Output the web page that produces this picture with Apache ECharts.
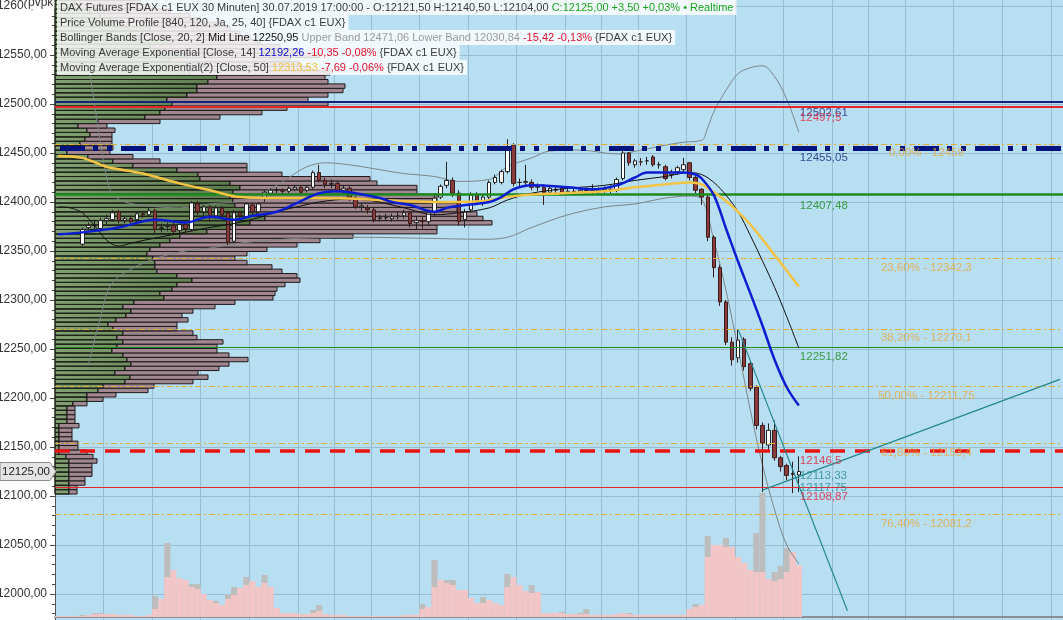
<!DOCTYPE html>
<html><head><meta charset="utf-8">
<script src="https://cdn.jsdelivr.net/npm/echarts@6/dist/echarts.min.js"></script>
<style>html,body{margin:0;padding:0;background:#fff;overflow:hidden}#c{width:1063px;height:620px}</style>
</head><body><div id="c"></div>
<script>
// ---------------- DATA ----------------
const SLOT_COUNT = 166;          // 30-minute slots on the x axis (incl. empty future space)
const candleFirstIndex = 4;      // slot of the first visible candle
// [open, close, low, high]
const candles = [
 [12357,12372,12355,12374],[12374,12376,12371,12379],[12376,12377,12372,12382],[12373,12381,12370,12384],
 [12381,12383,12377,12387],[12382,12389,12380,12392],[12390,12381,12378,12392],[12381,12383,12378,12386],
 [12383,12380,12377,12385],[12382,12388,12379,12390],[12388,12387,12384,12391],[12387,12391,12385,12394],
 [12391,12372,12368,12393],[12373,12374,12369,12378],[12375,12376,12370,12379],[12376,12370,12366,12379],
 [12371,12377,12367,12380],[12377,12373,12369,12380],[12372,12399,12370,12401],[12398,12390,12387,12401],
 [12390,12395,12386,12397],[12395,12386,12380,12397],[12386,12394,12383,12396],[12394,12387,12384,12396],
 [12389,12359,12356,12391],[12360,12389,12358,12392],[12389,12386,12382,12391],[12385,12398,12383,12400],
 [12397,12390,12387,12399],[12390,12398,12388,12400],[12405,12410,12400,12412],[12409,12412,12406,12414],
 [12412,12412,12409,12415],[12412,12411,12408,12414],[12411,12414,12409,12416],[12413,12415,12411,12417],
 [12415,12410,12408,12417],[12412,12415,12410,12417],[12415,12430,12413,12432],[12430,12422,12420,12438],
 [12422,12418,12414,12425],[12418,12419,12414,12423],[12419,12412,12409,12421],[12412,12414,12408,12417],
 [12414,12404,12401,12416],[12404,12395,12393,12406],[12395,12396,12391,12399],[12394,12392,12388,12397],
 [12392,12382,12379,12394],[12383,12384,12380,12387],[12384,12384,12381,12388],[12383,12385,12380,12388],
 [12385,12386,12382,12390],[12386,12389,12383,12392],[12389,12378,12374,12391],[12379,12381,12372,12385],
 [12381,12380,12373,12385],[12380,12389,12376,12392],[12390,12404,12386,12409],[12405,12416,12403,12418],
 [12417,12422,12414,12441],[12422,12409,12405,12425],[12409,12380,12376,12412],[12382,12390,12374,12393],
 [12392,12407,12389,12410],[12407,12400,12397,12410],[12400,12405,12396,12408],[12405,12420,12403,12422],
 [12420,12425,12418,12428],[12420,12431,12418,12433],[12431,12456,12429,12464],[12458,12419,12416,12460],
 [12420,12420,12416,12424],[12420,12421,12416,12438],[12420,12415,12412,12423],[12415,12416,12411,12419],
 [12415,12409,12397,12418],[12410,12414,12407,12416],[12413,12412,12409,12416],[12414,12409,12406,12416],
 [12410,12411,12407,12414],[12411,12410,12407,12414],[12410,12412,12407,12415],[12412,12411,12408,12415],
 [12411,12412,12408,12418],[12412,12411,12408,12415],[12411,12413,12409,12416],[12413,12412,12409,12417],
 [12412,12423,12410,12425],[12424,12450,12422,12452],[12450,12440,12437,12451],[12438,12442,12435,12444],
 [12441,12441,12437,12445],[12442,12442,12438,12446],[12446,12438,12436,12448],[12438,12438,12434,12441],
 [12436,12424,12422,12438],[12428,12430,12424,12433],[12431,12435,12428,12437],[12433,12438,12430,12445],
 [12440,12425,12422,12441],[12425,12412,12409,12427],[12413,12405,12397,12414],[12405,12364,12360,12407],
 [12364,12333,12323,12366],[12333,12298,12294,12336],[12298,12257,12254,12300],[12257,12239,12233,12262],
 [12241,12259,12236,12270],[12260,12232,12228,12262],[12235,12210,12207,12237],[12211,12172,12168,12213],
 [12172,12154,12104,12175],[12152,12167,12145,12174],[12167,12139,12136,12177],[12139,12130,12125,12141],
 [12131,12121,12116,12133],[12123,12122,12103,12135],[12121.5,12125,12104,12140.5]
];
// volume (contracts) per slot, and its average (pink)
const volume = [10,10,10,10,20,10,40,40,20,20, 10,10,10,10,10,20,210,100,740,300, 250,280,330,330,150,100,160,80,230,300,
 200,400,250,220,420,200,50,30,30,20, 20,20,70,120,20,10,10,10,10,10, 10,10,10,10,10,10,10,10,20,10,
 130,80,570,300,370,370,200,220,120,100, 200,120,100,90,430,300,250,200,320,180, 30,30,30,50,20,20,40,80,20,10,
 10,10,20,20,40,10,10,10,10,10, 10,10,10,10,50,130,80,810,600,650, 790,550,500,450,400,840,1240,300,450,510, 690,500,400];
const volumeAvg = [10,10,10,10,10,20,30,30,30,30, 20,20,20,10,10,20,80,180,400,470, 390,370,300,280,230,170,140,120,180,220,
 290,320,360,300,340,300,90,40,40,40, 30,30,40,60,30,20,20,20,10,10, 10,10,10,10,10,10,10,20,20,20,
 80,100,300,370,340,320,270,270,190,140, 140,170,140,120,300,400,320,260,240,250, 40,40,40,40,30,30,30,30,20,20,
 20,20,30,40,30,20,20,20,20,20, 20,20,20,20,80,100,120,600,720,720, 700,700,600,540,470,450,450,380,360,380, 450,650,520];
// indicator lines, sampled as [slot, price]
const ema14 = [[0,12367],[4,12369],[10,12374],[16,12382],[21,12379],[25,12385],[29,12382],[32,12386],[36,12390],[40,12401],[43,12409],[46,12411],[49,12409],[53,12404],[55,12400],[58,12397],[62,12390],[64,12394],[66,12396],[71,12400],[73,12405],[75,12413],[78,12417],[84,12415],[88,12413],[92,12417],[95,12425],[97,12430],[103,12430],[105,12428],[106,12424],[108,12407],[110,12373],[112,12339],[114,12307],[116,12274],[118,12239],[120,12211],[122,12192.26]];
const ema50 = [[0,12447],[4,12445],[8,12436],[14,12429],[20,12419],[25,12412],[30,12405],[36,12404],[42,12404],[50,12403],[56,12401],[64,12400],[70,12401],[75,12406],[83,12409],[90,12411],[95,12415],[100,12418],[104,12420],[106,12418],[108,12410],[110,12401],[112,12390],[114,12377],[116,12362],[118,12346],[120,12330],[122,12313.53]];
const bbMid = [[0,12395],[2,12394],[4,12389],[6,12376],[8,12361],[10,12355],[12,12358],[15,12362],[20,12368],[25,12374],[29,12378],[33,12384],[36,12390],[40,12396],[43,12400],[48,12403],[52,12401],[57,12394],[62,12387],[66,12389],[71,12394],[74,12402],[78,12409],[84,12414],[90,12417],[95,12422],[100,12426],[104,12430],[106,12428],[108,12420],[110,12407],[112,12390],[114,12366],[116,12340],[118,12313],[120,12283],[122,12250.95]];
const bbUpper = [[4,12610],[5,12545],[6,12500],[7,12460],[8,12425],[9,12408],[11,12400],[15,12396],[20,12394],[25,12398],[30,12401],[34,12410],[38,12425],[41,12436],[44,12440],[48,12438],[52,12434],[57,12429],[62,12426],[66,12421],[71,12423],[74,12436],[78,12445],[81,12452],[86,12453],[92,12449],[96,12453],[100,12458],[103,12461],[106,12463],[107,12476],[108,12492],[110,12514],[112,12531],[114,12537],[116,12539],[118,12528],[120,12505],[122,12471.06]];
const bbLower = [[5,12234],[6,12259],[7,12282],[8,12306],[9,12318],[11,12328],[15,12340],[20,12349],[25,12353],[30,12358],[35,12361],[40,12363],[50,12364],[60,12363],[70,12362],[74,12364],[78,12374],[84,12387],[90,12395],[95,12398],[100,12404],[104,12406],[106,12403],[108,12361],[110,12310],[112,12250],[114,12188],[116,12132],[118,12086],[120,12050],[122,12030.84]];
// drawn trend lines [slot, price]
const trendDown = [[112,12270],[130,11983]];
const trendUp = [[116,12106],[165,12219]];
// horizontal levels
const levelPrices = [12502.61, 12497.5, 12455.05, 12407.48, 12251.82, 12146.5, 12108.87];
const levelLabels = ['12502,61','12497,5','12455,05','12407,48','12251,82','12146,5','12108,87'];
const fibPrices = [12459, 12342.3, 12270.1, 12211.75, 12153.4, 12081.2];
const fibLabels = ['0,00% - 12459','23,60% - 12342,3','38,20% - 12270,1','50,00% - 12211,75','61,80% - 12153,4','76,40% - 12081,2'];
const trendLabelPrices = [12113.33, 12117.75];
const trendLabels = ['12113,33','12117,75'];
const lastClose = 12125;
// price volume profile: row low price, buy volume, sell volume
const profileBin = 4.5;
const profileLow = [12102,12106.5,12111,12115.5,12120,12124.5,12129,12133.5,12138,12142.5,
 12147,12151.5,12156,12160.5,12165,12169.5,12174,12178.5,12183,12187.5,
 12192,12196.5,12201,12205.5,12210,12214.5,12219,12223.5,12228,12232.5,
 12237,12241.5,12246,12250.5,12255,12259.5,12264,12268.5,12273,12277.5,
 12282,12286.5,12291,12295.5,12300,12304.5,12309,12313.5,12318,12322.5,
 12327,12331.5,12336,12340.5,12345,12349.5,12354,12358.5,12363,12367.5,
 12372,12376.5,12381,12385.5,12390,12394.5,12399,12403.5,12408,12412.5,
 12417,12421.5,12426,12430.5,12435,12439.5,12444,12448.5,12453,12457.5,
 12462,12466.5,12471,12475.5,12480,12484.5,12489,12493.5,12498,12502.5,
 12507,12511.5,12516,12520.5,12525,12529.5,12534,12538.5,12543,12547.5,
 12552,12556.5,12561,12565.5,12570,12574.5,12579,12583.5,12588,12592.5,
 12597,12601.5,12606];
const profileBuy = [14,14,14,14,14,14,14,14,11,4, 4,4,4,4,4,4,12,12,12,12,
 18,32,32,43,48,70,75,60,70,76, 72,68,57,62,68,62,68,58,53,61,
 71,76,68,79,109,105,117,122,137,122, 102,100,100,98,92,95,105,115,125,152,
 175,195,210,202,190,180,178,175,178,185, 175,145,143,122,78,58,33,12,23,25,
 30,35,32,23,43,90,105,110,117,112, 132,142,142,153,162,135,125,145,115,130,
 105,95,115,85,75,95,65,55,45,35, 25,20,15];
const profileSell = [8,8,16,16,23,23,23,28,27,28, 19,19,13,13,13,20,8,8,8,8,
 14,16,29,50,51,68,78,83,94,98, 121,106,105,100,100,80,70,64,69,72,
 56,62,92,101,109,115,105,108,108,120, 125,117,92,82,100,117,137,150,173,230,
 207,242,218,220,212,222,204,207,184,177, 147,170,84,70,114,47,45,43,35,32,
 27,22,28,29,62,75,102,122,156,141, 141,146,148,120,108,140,130,100,120,135,
 140,130,90,110,110,80,100,90,90,80, 70,65,60];

// ---------------- CHART ----------------
const FONT = '"Liberation Sans", Arial, sans-serif';
const slots = [];
for (let i = 0; i < SLOT_COUNT; i++) slots.push('bar ' + i);
const candleData = slots.map((_, i) => {
  const k = i - candleFirstIndex;
  return (k >= 0 && k < candles.length) ? candles[k] : '-';
});
const lastSlot = candleFirstIndex + candles.length - 1;
const gridBoundaries = new Set([8,16,24,32,40,46,52,60,68,76,84,90,96,104,112,120,128,134,140,148,156,164]);

const fmt = v => v.toFixed(2).replace('.', ',');

const levelStyles = [
  {color:'#13237a', width:2, type:'solid'},
  {color:'#e52628', width:2, type:'solid'},
  {color:'#00137f', width:5, type:[25,8,5,9,5,9], dashOffset:56},
  {color:'#1c8a1c', width:2.5, type:'solid'},
  {color:'#1c8a1c', width:1, type:'solid'},
  {color:'#e81414', width:3.5, type:[15,10]},
  {color:'#e52628', width:1, type:'solid'}
];
const levelLabelColors = ['#1a237e','#e0203a','#13237a','#1c8a1c','#1c8a1c','#e0203a','#e0203a'];
const levelLabelDy = [11, 11, 10, 11, 10, 10, 10];

const markLineData = [];
levelPrices.forEach((p, i) => markLineData.push({yAxis: p, lineStyle: levelStyles[i]}));
fibPrices.forEach(p => markLineData.push({yAxis: p, lineStyle: {color:'#e3ad3a', width:1, type:[6,3,2,3]}}));

const labelItems = [];
levelPrices.forEach((p, i) => labelItems.push({
  value: [lastSlot, p],
  label: {show:true, position:'right', distance:1, offset:[0, levelLabelDy[i]], formatter: levelLabels[i], color: levelLabelColors[i], fontSize: 11.5, fontFamily: FONT}
}));
const trendDy = [-7, 9];
trendLabelPrices.forEach((p, i) => labelItems.push({
  value: [lastSlot, p],
  label: {show:true, position:'right', distance:1, offset:[0, trendDy[i]], formatter: trendLabels[i], color: '#23888f', fontSize: 11.5, fontFamily: FONT}
}));
const fibSlot = 143;
fibPrices.forEach((p, i) => labelItems.push({
  value: [fibSlot, p],
  label: {show:true, position:'bottom', distance:3, formatter: fibLabels[i], color: '#e8a73a', fontSize: 11.5, fontFamily: FONT}
}));

const greenFill = {type:'linear', x:55, y:0, x2:230, y2:0, global:true,
  colorStops:[{offset:0, color:'#83a072'},{offset:1, color:'#5c7a4b'}]};

function renderProfile(params, api) {
  const buy = api.value(0), sell = api.value(1), low = api.value(2);
  const pBase = api.coord([0, low]);
  const pTop = api.coord([0, low + profileBin]);
  const xg = api.coord([buy, low])[0];
  const xm = api.coord([buy + sell, low])[0];
  const h = pBase[1] - pTop[1];
  return {type:'group', children:[
    {type:'rect', shape:{x:pBase[0], y:pTop[1], width:xg - pBase[0], height:h},
     style:{fill:greenFill, stroke:'#1b2218', lineWidth:1}},
    {type:'rect', shape:{x:xg, y:pTop[1], width:xm - xg, height:h},
     style:{fill:'#a1878f', stroke:'#1f1a1c', lineWidth:1}}
  ]};
}

const lineSeries = (data, color, width, z) => ({
  type:'line', data, xAxisIndex:0, yAxisIndex:0, showSymbol:false, smooth:0.35,
  lineStyle:{color, width}, z, silent:true, animation:false
});

const rowBox = {backgroundColor:'rgba(255,255,255,0.82)', padding:[1,3,1,3]};
const FS = 11;
const rich = {
  k:{color:'#111', fontSize:FS, fontFamily:FONT},
  s:{color:'#9a9a9a', fontSize:FS, fontFamily:FONT},
  r:{color:'#e0102a', fontSize:FS, fontFamily:FONT},
  b:{color:'#0a0ac8', fontSize:FS, fontFamily:FONT},
  y:{color:'#f0c040', fontSize:FS, fontFamily:FONT},
  g:{color:'#1aa51a', fontSize:FS, fontFamily:FONT}
};
const legendRows = [
  'DAX Futures [FDAX c1 EUX 30 Minuten] 30.07.2019 17:00:00 - O:12121,50 H:12140,50 L:12104,00 {g|C:12125,00 +3,50 +0,03% \u2022 Realtime}',
  'Price Volume Profile [840, 120, Ja, 25, 40] {FDAX c1 EUX}',
  'Bollinger Bands [Close, 20, 2] {k|Mid Line 12250,95} {s|Upper Band 12471,06 Lower Band 12030,84} {r|-15,42 -0,13%} {FDAX c1 EUX}',
  'Moving Average Exponential [Close, 14] {b|12192,26} {r|-10,35 -0,08%} {FDAX c1 EUX}',
  'Moving Average Exponential(2) [Close, 50] {y|12313,53} {r|-7,69 -0,06%} {FDAX c1 EUX}'
];
const titles = legendRows.map((t, i) => Object.assign({
  text: t, left: 57, top: i * 15,
  textStyle:{color:'#3a3a3a', fontSize:FS, fontWeight:'normal', fontFamily:FONT, lineHeight:13, rich}
}, rowBox));

const chart = echarts.init(document.getElementById('c'), null, {renderer:'canvas'});
chart.setOption({
  animation:false,
  backgroundColor:'#ffffff',
  title: titles,
  grid:[
    {left:55, right:0, top:-43, bottom:-23, show:true, backgroundColor:'#b8def1', borderWidth:0, containLabel:false, outerBoundsMode:'none'},
    {left:55, right:0, top:417, height:200, show:false, outerBoundsMode:'none'}
  ],
  xAxis:[
    {type:'category', data:slots, gridIndex:0, boundaryGap:true,
     axisLine:{show:false}, axisTick:{show:false}, axisLabel:{show:false},
     splitLine:{show:true, interval:(idx) => gridBoundaries.has(idx), lineStyle:{color:'#98bdd3', width:1}}},
    {type:'value', gridIndex:0, min:0, max:1008, show:false},
    {type:'category', data:slots, gridIndex:1, boundaryGap:true,
     axisLine:{show:true, lineStyle:{color:'#8a8f94', width:2}}, axisTick:{show:false}, axisLabel:{show:false}, splitLine:{show:false}}
  ],
  yAxis:[
    {type:'value', gridIndex:0, min:11950, max:12650, interval:50, position:'left',
     axisLine:{show:true, lineStyle:{color:'#555', width:1}},
     axisTick:{show:true, length:5, lineStyle:{color:'#444'}},
     minorTick:{show:true, splitNumber:5, length:3, lineStyle:{color:'#444'}},
     axisLabel:{formatter:fmt, color:'#333', fontSize:12, fontFamily:FONT, margin:8},
     splitLine:{show:true, lineStyle:{color:'#98bdd3', width:1}}},
    {type:'value', gridIndex:1, min:0, max:2000, show:false}
  ],
  series:[
    {type:'bar', name:'Volume', xAxisIndex:2, yAxisIndex:1, data:volume, barCategoryGap:'0%', barGap:'-100%',
     itemStyle:{color:'#bdbdbd'}, z:1, silent:true},
    {type:'bar', name:'Volume average', xAxisIndex:2, yAxisIndex:1, data:volumeAvg, barCategoryGap:'0%', barGap:'-100%',
     itemStyle:{color:'#f2c5c6'}, z:1, silent:true},
    {type:'custom', name:'Price Volume Profile', xAxisIndex:1, yAxisIndex:0, renderItem:renderProfile,
     data: profileLow.map((p, k) => [profileBuy[k], profileSell[k], p]), encode:{x:0, y:2}, z:2, silent:true, clip:false},
    lineSeries(bbUpper, '#7d8589', 1, 3),
    lineSeries(bbLower, '#7d8589', 1, 3),
    {type:'candlestick', name:'FDAX', xAxisIndex:0, yAxisIndex:0, data:candleData, barWidth:4, z:4, silent:true,
     itemStyle:{color:'#ffffff', color0:'#8a3b3b', borderColor:'#222222', borderColor0:'#3a1c1c', borderWidth:1},
     markLine:{symbol:['none','none'], silent:true, animation:false, label:{show:false}, data:markLineData}},
    lineSeries(bbMid, '#111111', 1, 5),
    lineSeries(ema50, '#f3c444', 2.5, 5),
    lineSeries(ema14, '#0b1ed2', 2.5, 6),
    {type:'line', data:trendDown, showSymbol:false, lineStyle:{color:'#23888f', width:1.2}, z:6, silent:true},
    {type:'line', data:trendUp, showSymbol:false, lineStyle:{color:'#23888f', width:1.2}, z:6, silent:true},
    {type:'scatter', data:labelItems, symbolSize:0, z:7, silent:true}
  ]
});

const tagY = chart.convertToPixel({yAxisIndex:0}, lastClose);
chart.setOption({
  graphic:[
    {type:'polygon', z:100, shape:{points:[[0,tagY-9],[50,tagY-9],[56,tagY],[50,tagY+9],[0,tagY+9]]},
     style:{fill:'#e4e4e4', stroke:'#8c8c8c', lineWidth:1}},
    {type:'text', z:101, left:2, top:tagY-6, style:{text:fmt(lastClose), fill:'#222', font:'11.5px ' + FONT}},
    {type:'text', z:101, left:27, top:-3, style:{text:'pvpk', fill:'#333', font:'12px ' + FONT, backgroundColor:'#ffffff', padding:[0,1,0,1]}}
  ]
});
</script>
</body></html>
